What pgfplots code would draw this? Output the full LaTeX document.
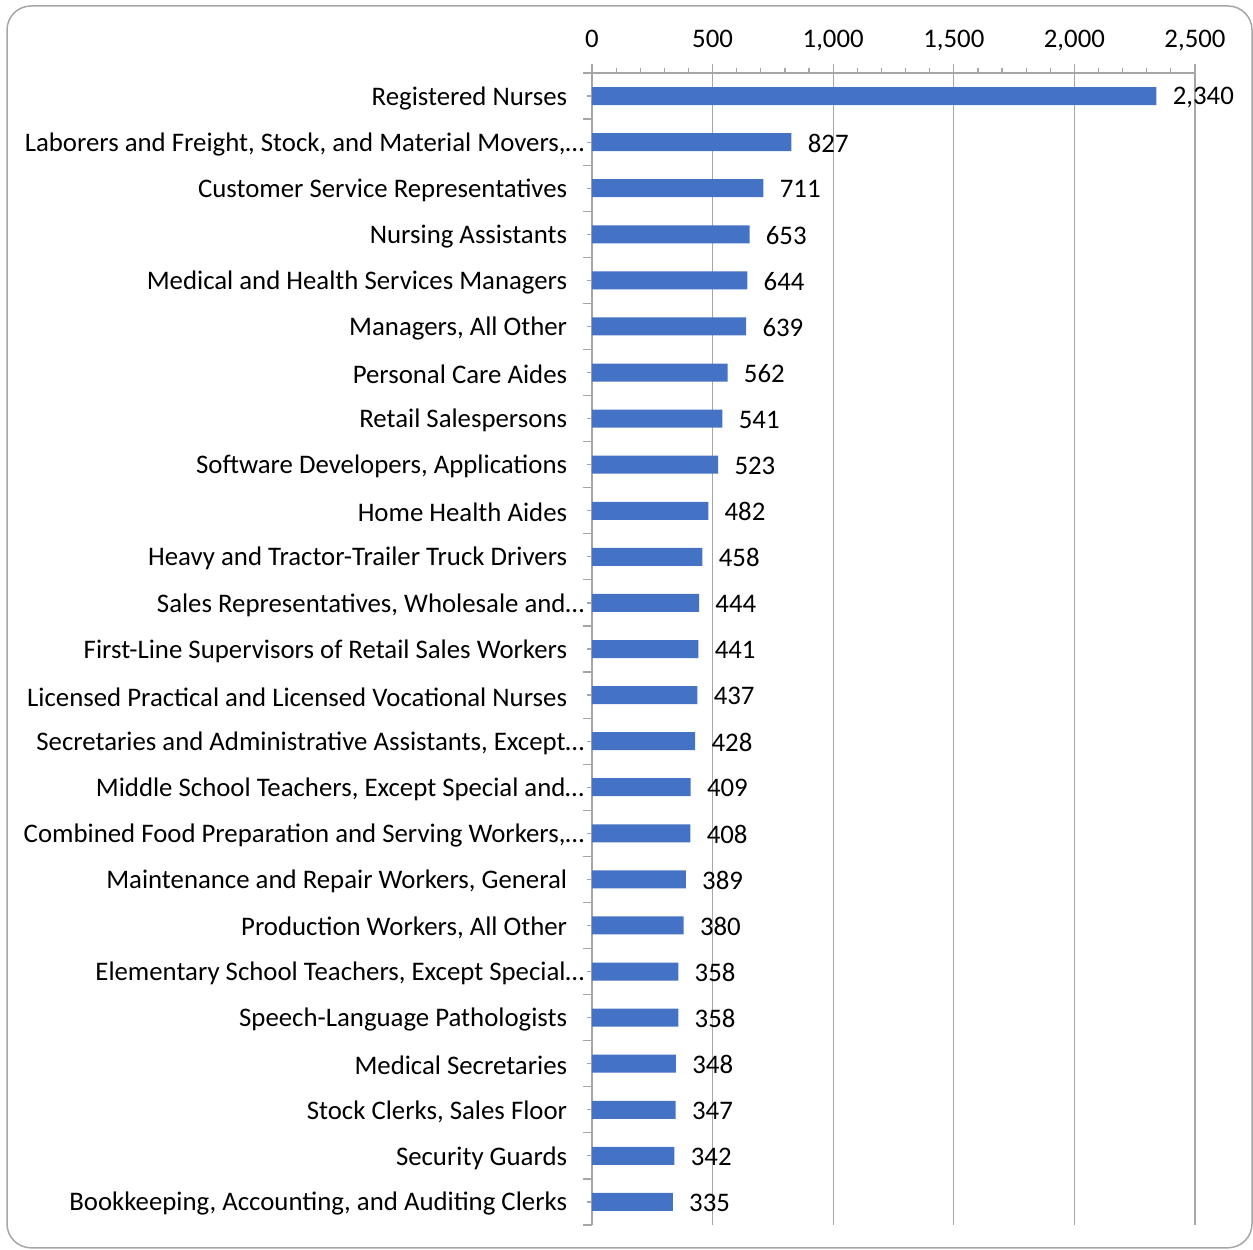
\documentclass[border=0pt]{standalone}
\usepackage{fontspec}
\setmainfont{Carlito}
\usepackage{pgfplots}
\pgfplotsset{compat=1.18}
\definecolor{barblue}{HTML}{4472C4}
\definecolor{gridgray}{HTML}{A6A6A6}
\newcommand{\fs}{\fontsize{13.4}{15}\selectfont}
\newcommand{\tr}{\kern-8.5pt}
\begin{document}
\begin{tikzpicture}
\useasboundingbox (0,0) rectangle (626.5pt,624.5pt);
\draw[gridgray, line width=0.75pt, rounded corners=12pt] (3.5pt,0.6pt) rectangle (626pt,621.5pt);
\begin{axis}[
  at={(296pt,12pt)}, anchor=south west,
  scale only axis, width=301.5pt, height=576pt,
  xbar, bar width=9pt,
  xmin=0, xmax=2500,
  ymin=-0.5, ymax=24.5,
  axis x line*=top, axis y line*=left,
  axis line style={gridgray, line width=0.75pt},
  xtick={0,500,...,2500},
  minor x tick num=4,
  xmajorgrids,
  grid style={gridgray, line width=0.6pt},
  xtick align=outside,
  ytick align=center,
  major tick length=4.5pt,
  minor tick length=2.5pt,
  tick style={gridgray, line width=0.6pt},
  /pgf/number format/assume math mode=true,
  /pgf/number format/1000 sep={,},
  xticklabel style={font=\fs, anchor=base, inner sep=0pt, yshift=8pt},
  yticklabel style={font=\fs, anchor=east, inner sep=0pt, xshift=-10pt, yshift=-1pt},
  ytick={0,...,24},
  yticklabels={
    {Bookkeeping, Accounting, and Auditing Clerks},
    {Security Guards},
    {Stock Clerks, Sales Floor},
    {Medical Secretaries},
    {Speech-Language Pathologists},
    {Elementary School Teachers, Except Special…\tr},
    {Production Workers, All Other},
    {Maintenance and Repair Workers, General},
    {Combined Food Preparation and Serving Workers,…\tr},
    {Middle School Teachers, Except Special and…\tr},
    {Secretaries and Administrative Assistants, Except…\tr},
    {Licensed Practical and Licensed Vocational Nurses},
    {First-Line Supervisors of Retail Sales Workers},
    {Sales Representatives, Wholesale and…\tr},
    {Heavy and Tractor-Trailer Truck Drivers},
    {Home Health Aides},
    {Software Developers, Applications},
    {Retail Salespersons},
    {Personal Care Aides},
    {Managers, All Other},
    {Medical and Health Services Managers},
    {Nursing Assistants},
    {Customer Service Representatives},
    {Laborers and Freight, Stock, and Material Movers,…\tr},
    {Registered Nurses}
  },
  extra y ticks={-0.5,0.5,...,24.5},
  extra y tick labels={},
  extra y tick style={ytick align=outside},
  nodes near coords,
  nodes near coords align=horizontal,
  every node near coord/.append style={font=\fs, black, anchor=west, inner sep=0pt, xshift=8pt, yshift=-0.5pt},
  clip=false,
]
\addplot[fill=barblue, draw=none] coordinates {
  (335,0) (342,1) (347,2) (348,3) (358,4) (358,5) (380,6) (389,7)
  (408,8) (409,9) (428,10) (437,11) (441,12) (444,13) (458,14)
  (482,15) (523,16) (541,17) (562,18) (639,19) (644,20) (653,21)
  (711,22) (827,23) (2340,24)
};
\end{axis}
\end{tikzpicture}
\end{document}
